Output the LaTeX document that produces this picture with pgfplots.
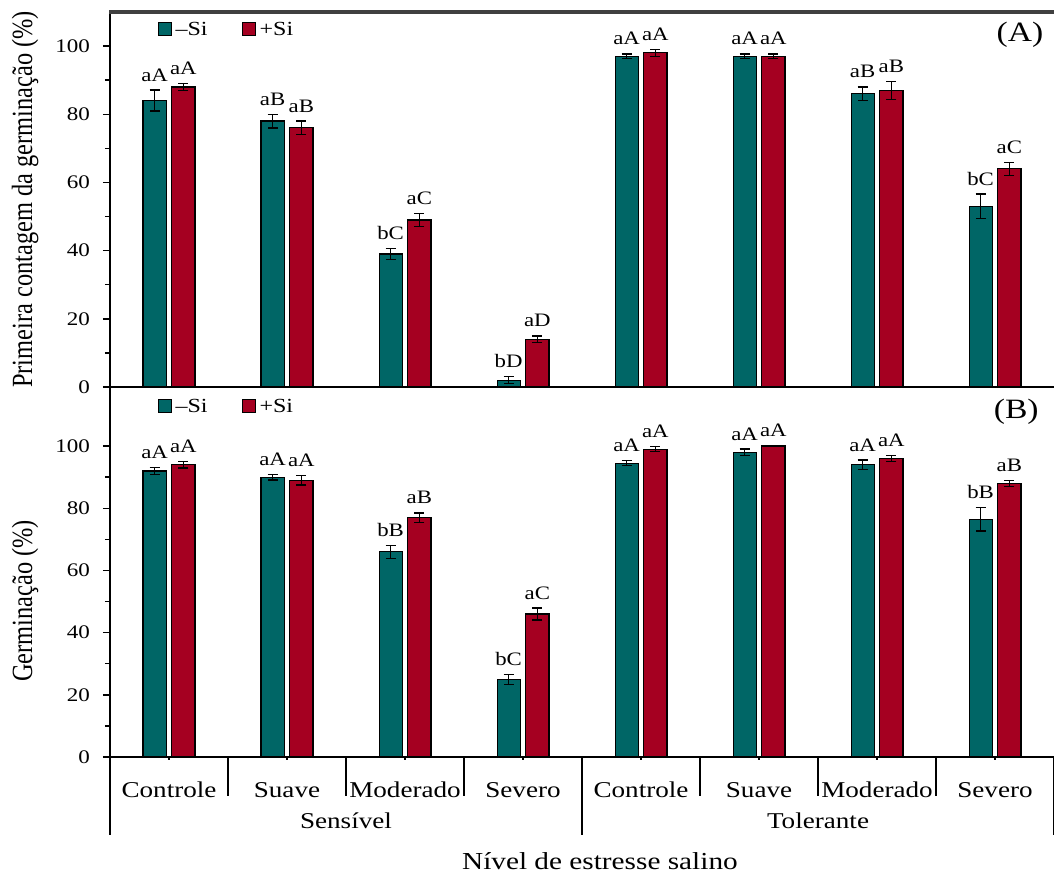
\documentclass[border=0pt]{standalone}
\usepackage{fontspec}
\setmainfont{Liberation Serif}[FakeStretch=1.2]
\newfontfamily\ylabfont{Liberation Serif}
\usepackage{graphicx}
\usepackage{pgfplots}
\usepackage{pgfplotstable}
\pgfplotsset{compat=1.18}
\definecolor{tealc}{RGB}{0,102,102}
\definecolor{redc}{RGB}{165,0,33}

\pgfplotstableread{
g ym em lm yp ep lp
1 84 3.1 aA 88 1.1 aA
2 78 2.0 aB 76 2.0 aB
3 39 1.6 bC 49 1.9 aC
4 2 1.0 bD 14 1.0 aD
5 97 0.7 aA 98 1.0 aA
6 97 0.7 aA 97 0.7 aA
7 86 2.0 aB 87 2.6 aB
8 53 3.6 bC 64 1.9 aC
}\dataA

\pgfplotstableread{
g ym em lm yp ep lp
1 92 1.1 aA 94 1.1 aA
2 90 0.9 aA 89 1.5 aA
3 66 2.1 bB 77 1.5 aB
4 25 1.6 bC 46 1.9 aC
5 94.5 0.8 aA 99 0.8 aA
6 98 1.0 aA 100 0.1 aA
7 94 1.5 aA 96 1.0 aA
8 76.5 3.8 bB 88 1.0 aB
}\dataB

\pgfplotsset{
  panel/.style={
    scale only axis, width=472pt, xmin=0.5, xmax=8.5, ymin=0,
    axis x line*=bottom, axis y line*=left,
    axis line style={line width=0.8pt, -},
    ytick={0,20,...,100}, minor y tick num=1,
    tick align=outside, major tick length=3.5pt, minor tick length=2.5pt,
    every tick/.style={line width=0.7pt, black},
    yticklabel style={font=\fontsize{9.6}{11}\selectfont, xshift=-3pt},
    /pgf/number format/assume math mode=true,
    ylabel style={font=\ylabfont\fontsize{12.2}{14}\selectfont, anchor=center},
    legend columns=2,
    legend style={draw=none, fill=none, anchor=west, inner sep=0pt,
      font=\fontsize{10}{11}\selectfont,
      /tikz/every even column/.append style={column sep=15pt}},
    clip=false,
  },
  barm/.style={ybar, bar width=0.195, bar shift=0pt, fill=tealc, draw=black,
    line width=0.6pt,
    legend image code/.code={\draw[fill=tealc,draw=black,line width=0.5pt] (0pt,-3pt) rectangle (6.5pt,3.5pt);},
    error bars/.cd, y dir=both, y explicit,
    error bar style={line width=0.7pt, black},
    error mark options={rotate=90, mark size=2.5pt, line width=0.7pt, black}},
  barp/.style={ybar, bar width=0.195, bar shift=0pt, fill=redc, draw=black,
    line width=0.6pt,
    legend image code/.code={\draw[fill=redc,draw=black,line width=0.5pt] (0pt,-3pt) rectangle (6.5pt,3.5pt);},
    error bars/.cd, y dir=both, y explicit,
    error bar style={line width=0.7pt, black},
    error mark options={rotate=90, mark size=2.5pt, line width=0.7pt, black}},
  lab/.style={draw=none, mark=none, forget plot, nodes near coords,
    point meta=explicit symbolic,
    nodes near coords style={font=\fontsize{9.5}{11}\selectfont, anchor=base, yshift=4.5pt, text=black}},
}

\begin{document}
\begin{tikzpicture}
% Panel B (bottom)
\begin{axis}[panel, height=185pt, ymax=119,
  at={(0,0)}, anchor=south west,
  xtick={1,...,8},
  xticklabels={Controle,Suave,Moderado,Severo,Controle,Suave,Moderado,Severo},
  xtick style={draw=none},
  xticklabel style={font=\fontsize{11.3}{13}\selectfont, anchor=base, yshift=-17pt},
  ylabel={\scalebox{1}[1.2]{Germinação (\%)}},
  ylabel style={at={(rel axis cs:-0.09,0.4216)}},
  xlabel={Nível de estresse salino},
  xlabel style={at={(rel axis cs:0.519,-0.3054)}, anchor=base, font=\fontsize{12.2}{14}\selectfont},
  legend style={at={(rel axis cs:0.05,0.946)}},
]
\addplot[barm] table[x expr=\thisrow{g}-0.122, y=ym, y error=em]{\dataB};
\addlegendentry{–Si}
\addplot[barp] table[x expr=\thisrow{g}+0.122, y=yp, y error=ep]{\dataB};
\addlegendentry{+Si}
\addplot[lab] table[x expr=\thisrow{g}-0.122, y expr=\thisrow{ym}+\thisrow{em}, meta=lm]{\dataB};
\addplot[lab] table[x expr=\thisrow{g}+0.122, y expr=\thisrow{yp}+\thisrow{ep}, meta=lp]{\dataB};
\pgfplotsinvokeforeach{1,...,8}{\draw[line width=0.7pt] (axis cs:#1,0) -- ++(0pt,-1.5pt);}
\pgfplotsinvokeforeach{1.5,2.5,3.5,5.5,6.5,7.5}{\draw[line width=0.7pt] (axis cs:#1,0) -- ++(0pt,-19.5pt);}
\pgfplotsinvokeforeach{0.5,4.5,8.5}{\draw[line width=0.8pt] (axis cs:#1,0) -- ++(0pt,-39pt);}
\node[font=\fontsize{11.3}{13}\selectfont, anchor=base, yshift=-36pt] at (axis cs:2.5,0) {Sensível};
\node[font=\fontsize{11.3}{13}\selectfont, anchor=base, yshift=-36pt] at (axis cs:6.5,0) {Tolerante};
\node[font=\fontsize{14}{16}\selectfont] at (rel axis cs:0.960,0.932) {(B)};
\end{axis}
% Panel A (top)
\begin{axis}[panel, height=187.5pt, ymax=110,
  at={(0,185pt)}, anchor=south west,
  xtick=\empty,
  ylabel={\scalebox{1}[1.2]{Primeira contagem da germinação (\%)}},
  ylabel style={at={(rel axis cs:-0.09,0.5)}},
  legend style={at={(rel axis cs:0.05,0.952)}},
]
\addplot[barm] table[x expr=\thisrow{g}-0.122, y=ym, y error=em]{\dataA};
\addlegendentry{–Si}
\addplot[barp] table[x expr=\thisrow{g}+0.122, y=yp, y error=ep]{\dataA};
\addlegendentry{+Si}
\addplot[lab] table[x expr=\thisrow{g}-0.122, y expr=\thisrow{ym}+\thisrow{em}, meta=lm]{\dataA};
\addplot[lab] table[x expr=\thisrow{g}+0.122, y expr=\thisrow{yp}+\thisrow{ep}, meta=lp]{\dataA};
\node[font=\fontsize{14}{16}\selectfont] at (rel axis cs:0.964,0.939) {(A)};
\end{axis}
\fill[black!75] (-0.4pt,371.7pt) rectangle (472pt,373.3pt);
\pgfresetboundingbox
\path (-55pt,-59.5pt) rectangle (472pt,378.5pt);
\end{tikzpicture}
\end{document}
